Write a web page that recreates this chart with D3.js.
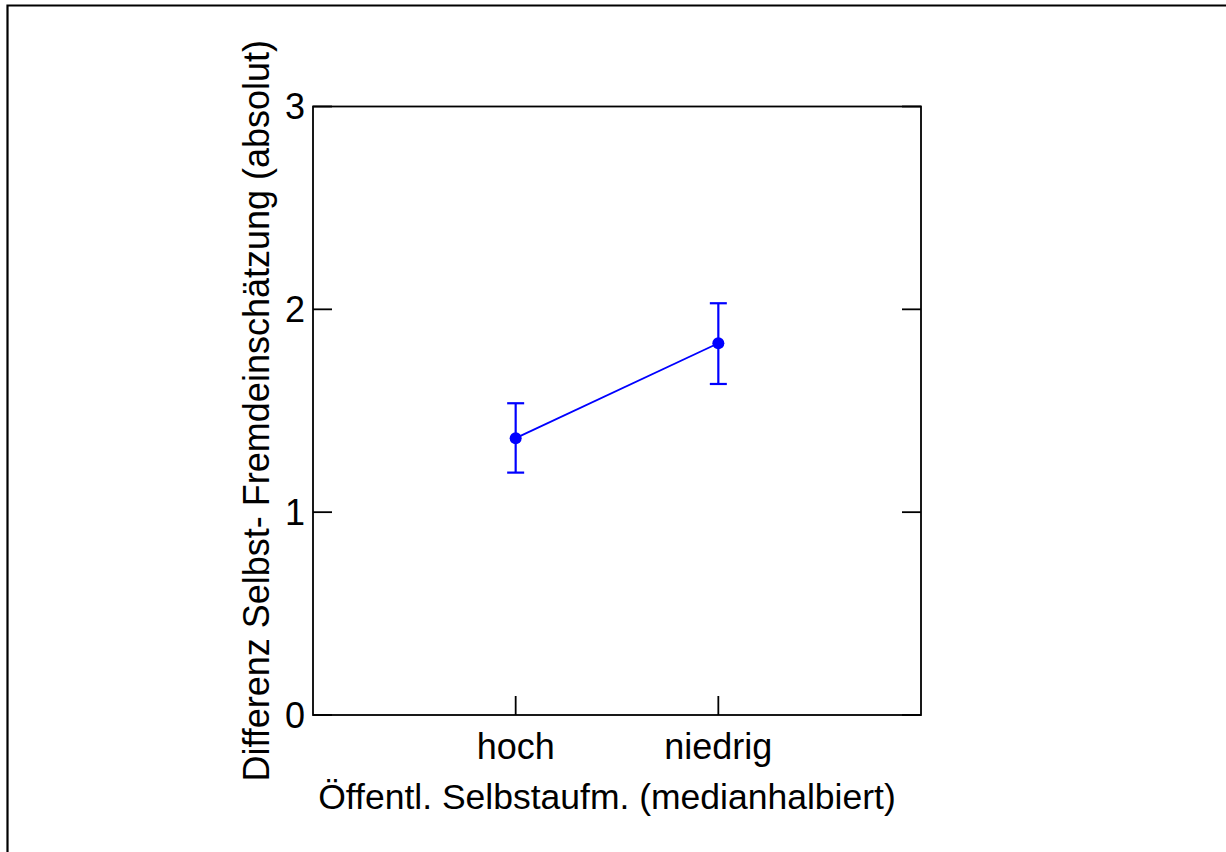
<!DOCTYPE html>
<html><head><meta charset="utf-8">
<script src="https://cdn.jsdelivr.net/npm/d3@7"></script>
<style>body{margin:0;background:#fff}svg{display:block}text{font-family:"Liberation Sans",Arial,sans-serif;fill:#000}</style>
</head><body><svg id="c" width="1226" height="852"></svg>
<script>
const categories = ["hoch", "niedrig"];
const means = [1.365, 1.833];
const lower = [1.195, 1.632];
const upper = [1.537, 2.030];
const yTicks = [0, 1, 2, 3];
const xTitle = "Öffentl. Selbstaufm. (medianhalbiert)";
const yTitle = "Differenz Selbst- Fremdeinschätzung (absolut)";

const svg = d3.select("#c");
const L = 313, R = 921, T = 106.5, B = 715;
const x = d3.scaleLinear().domain([0, 3]).range([L, R]);
const y = d3.scaleLinear().domain([0, 3]).range([B, T]);
const fs = 36, tl = 19;

// outer frame (top & left)
svg.append("path").attr("d", "M7.5,852 V5.5 H1226").attr("fill", "none").attr("stroke", "#000").attr("stroke-width", 2.2);

// plot box
svg.append("rect").attr("x", L).attr("y", T).attr("width", R - L).attr("height", B - T)
  .attr("fill", "none").attr("stroke", "#000").attr("stroke-width", 1.8);

// y ticks (inward, both sides)
const gy = svg.append("g");
yTicks.forEach(v => {
  gy.append("line").attr("x1", L).attr("x2", L + tl).attr("y1", y(v)).attr("y2", y(v)).attr("stroke", "#000").attr("stroke-width", 1.8);
  gy.append("line").attr("x1", R).attr("x2", R - tl).attr("y1", y(v)).attr("y2", y(v)).attr("stroke", "#000").attr("stroke-width", 1.8);
  gy.append("text").attr("x", L - 8).attr("y", y(v)).attr("dy", "0.36em").attr("text-anchor", "end").attr("font-size", fs).text(v);
});

// x ticks
const gx = svg.append("g");
categories.forEach((c, i) => {
  gx.append("line").attr("x1", x(i + 1)).attr("x2", x(i + 1)).attr("y1", B).attr("y2", B - tl).attr("stroke", "#000").attr("stroke-width", 1.8);
  gx.append("text").attr("x", x(i + 1)).attr("y", B + 44).attr("text-anchor", "middle").attr("font-size", fs).text(c);
});

// titles
svg.append("text").attr("x", 607).attr("y", B + 94).attr("text-anchor", "middle").attr("font-size", 35.5).text(xTitle);
svg.append("text").attr("transform", `translate(269,${(T + B) / 2}) rotate(-90)`).attr("text-anchor", "middle").attr("font-size", fs).text(yTitle);

// data
const data = categories.map((c, i) => ({ c, i: i + 1, m: means[i], lo: lower[i], hi: upper[i] }));
const blue = "#0000ff";
svg.append("path").datum(data).attr("fill", "none").attr("stroke", blue).attr("stroke-width", 1.8)
  .attr("d", d3.line().x(d => x(d.i)).y(d => y(d.m)));
const eb = svg.append("g").attr("stroke", blue).attr("stroke-width", 2.2);
data.forEach(d => {
  eb.append("line").attr("x1", x(d.i)).attr("x2", x(d.i)).attr("y1", y(d.lo)).attr("y2", y(d.hi));
  eb.append("line").attr("x1", x(d.i) - 8.5).attr("x2", x(d.i) + 8.5).attr("y1", y(d.lo)).attr("y2", y(d.lo));
  eb.append("line").attr("x1", x(d.i) - 8.5).attr("x2", x(d.i) + 8.5).attr("y1", y(d.hi)).attr("y2", y(d.hi));
});
svg.append("g").selectAll("circle").data(data).join("circle")
  .attr("cx", d => x(d.i)).attr("cy", d => y(d.m)).attr("r", 6).attr("fill", blue);
</script></body></html>
